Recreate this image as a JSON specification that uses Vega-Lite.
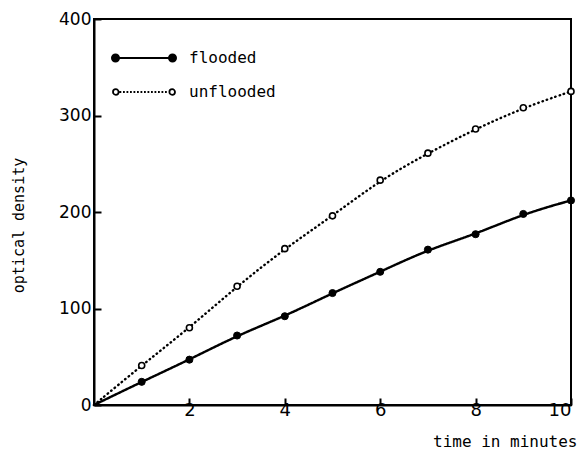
{
  "$schema": "https://vega.github.io/schema/vega-lite/v6.json",
  "autosize": "none",
  "width": 477,
  "height": 386,
  "padding": {"left": 94, "top": 19, "right": 11, "bottom": 44},
  "background": "white",
  "config": {
    "view": {"stroke": "black", "strokeWidth": 2},
    "axis": {"domainColor": "black", "domainWidth": 2, "tickColor": "black", "tickWidth": 2, "grid": false, "labelColor": "black", "titleColor": "black", "labelFont": "DejaVu Sans", "titleFont": "DejaVu Sans Mono", "titleFontWeight": "normal"},
    "legend": {"labelFont": "DejaVu Sans Mono", "labelFontSize": 16, "labelColor": "black", "symbolOpacity": 1}
  },
  "data": {"values": [
    {"time": 0, "density": 0, "series": "flooded"},
    {"time": 1, "density": 24, "series": "flooded"},
    {"time": 2, "density": 47, "series": "flooded"},
    {"time": 3, "density": 72, "series": "flooded"},
    {"time": 4, "density": 92, "series": "flooded"},
    {"time": 5, "density": 116, "series": "flooded"},
    {"time": 6, "density": 138, "series": "flooded"},
    {"time": 7, "density": 161, "series": "flooded"},
    {"time": 8, "density": 177, "series": "flooded"},
    {"time": 9, "density": 198, "series": "flooded"},
    {"time": 10, "density": 212, "series": "flooded"},
    {"time": 0, "density": 0, "series": "unflooded"},
    {"time": 1, "density": 41, "series": "unflooded"},
    {"time": 2, "density": 80, "series": "unflooded"},
    {"time": 3, "density": 123, "series": "unflooded"},
    {"time": 4, "density": 162, "series": "unflooded"},
    {"time": 5, "density": 196, "series": "unflooded"},
    {"time": 6, "density": 233, "series": "unflooded"},
    {"time": 7, "density": 261, "series": "unflooded"},
    {"time": 8, "density": 286, "series": "unflooded"},
    {"time": 9, "density": 308, "series": "unflooded"},
    {"time": 10, "density": 325, "series": "unflooded"}
  ]},
  "encoding": {
    "x": {"field": "time", "type": "quantitative", "scale": {"domain": [0, 10], "nice": false},
      "axis": {"values": [2, 4, 6, 8, 10], "tickSize": -7, "labelPadding": 3, "labelFontSize": 18, "title": "time in minutes", "titleFontSize": 16, "titleAnchor": "end", "titleAlign": "right", "titleX": 483, "titleY": 41, "titleBaseline": "alphabetic"}},
    "y": {"field": "density", "type": "quantitative", "scale": {"domain": [0, 400], "nice": false},
      "axis": {"values": [0, 100, 200, 300, 400], "tickSize": -7, "labelPadding": 10, "labelFontSize": 17, "title": "optical density", "titleFontSize": 15, "titleX": -68, "titleY": 206}}
  },
  "layer": [
    {
      "mark": {"type": "line", "interpolate": "basis", "color": "black", "strokeWidth": 2.4, "strokeCap": "round"},
      "encoding": {
        "strokeDash": {"field": "series", "type": "nominal",
          "scale": {"domain": ["flooded", "unflooded"], "range": [[1, 0], [0.5, 4]]},
          "legend": null}
      }
    },
    {
      "transform": [{"filter": "datum.time > 0 && datum.series === 'flooded'"}],
      "mark": {"type": "point", "shape": "circle", "stroke": "black", "strokeWidth": 1, "opacity": 1, "filled": true, "size": 50},
      "encoding": {
        "fill": {"field": "series", "type": "nominal",
          "scale": {"domain": ["flooded"], "range": ["black"]},
          "legend": {
            "title": null, "orient": "none", "legendX": 39, "legendY": 28,
            "symbolType": "M-2.85,0L2.85,0M-3.2,0a0.35,0.35 0 1,0 0.7,0a0.35,0.35 0 1,0 -0.7,0M2.5,0a0.35,0.35 0 1,0 0.7,0a0.35,0.35 0 1,0 -0.7,0",
            "symbolSize": 400, "labelOffset": 34,
            "symbolStrokeColor": "black", "symbolStrokeWidth": 2
          }}
      }
    },
    {
      "transform": [{"filter": "datum.time > 0 && datum.series === 'unflooded'"}],
      "mark": {"type": "point", "shape": "circle", "fill": "white", "strokeWidth": 1.6, "opacity": 1, "filled": false, "size": 36},
      "encoding": {
        "stroke": {"field": "series", "type": "nominal",
          "scale": {"domain": ["unflooded"], "range": ["black"]},
          "legend": {
            "title": null, "orient": "none", "legendX": 39, "legendY": 62,
            "symbolType": "M-2.45,0h0.18M-2.1,0h0.18M-1.75,0h0.18M-1.4,0h0.18M-1.05,0h0.18M-0.7,0h0.18M-0.35,0h0.18M0,0h0.18M0.35,0h0.18M0.7,0h0.18M1.05,0h0.18M1.4,0h0.18M1.75,0h0.18M2.1,0h0.18M-3.1,0a0.28,0.28 0 1,0 0.56,0a0.28,0.28 0 1,0 -0.56,0M2.54,0a0.28,0.28 0 1,0 0.56,0a0.28,0.28 0 1,0 -0.56,0",
            "symbolSize": 400, "labelOffset": 34,
            "symbolFillColor": "white", "symbolStrokeWidth": 1.8
          }}
      }
    }
  ]
}
